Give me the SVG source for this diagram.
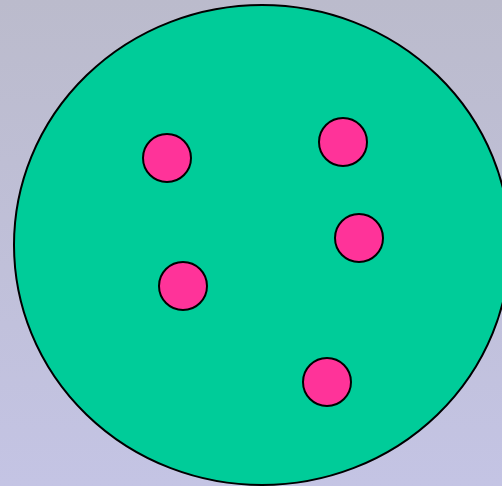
<svg xmlns="http://www.w3.org/2000/svg" width="502" height="486" viewBox="0 0 502 486">
<defs>
<linearGradient id="bg" x1="0" y1="0" x2="0" y2="1">
<stop offset="0" stop-color="#BBBBCC"/>
<stop offset="1" stop-color="#C4C4E4"/>
</linearGradient>
<style>
.dot{fill:#FF3399;stroke:#000;stroke-width:2}
.big{fill:#00CC99;stroke:#000;stroke-width:2}
</style>
</defs>
<rect x="0" y="0" width="502" height="486" fill="url(#bg)"/>
<g id="cell"><ellipse class="big" cx="262" cy="245" rx="248" ry="240"/></g>
<g id="dot1"><circle class="dot" cx="167" cy="158" r="24"/></g>
<g id="dot2"><circle class="dot" cx="343" cy="142" r="24"/></g>
<g id="dot3"><circle class="dot" cx="359" cy="238" r="24"/></g>
<g id="dot4"><circle class="dot" cx="183" cy="286" r="24"/></g>
<g id="dot5"><circle class="dot" cx="327" cy="382" r="24"/></g>
<g id="connectors"></g>
</svg>
